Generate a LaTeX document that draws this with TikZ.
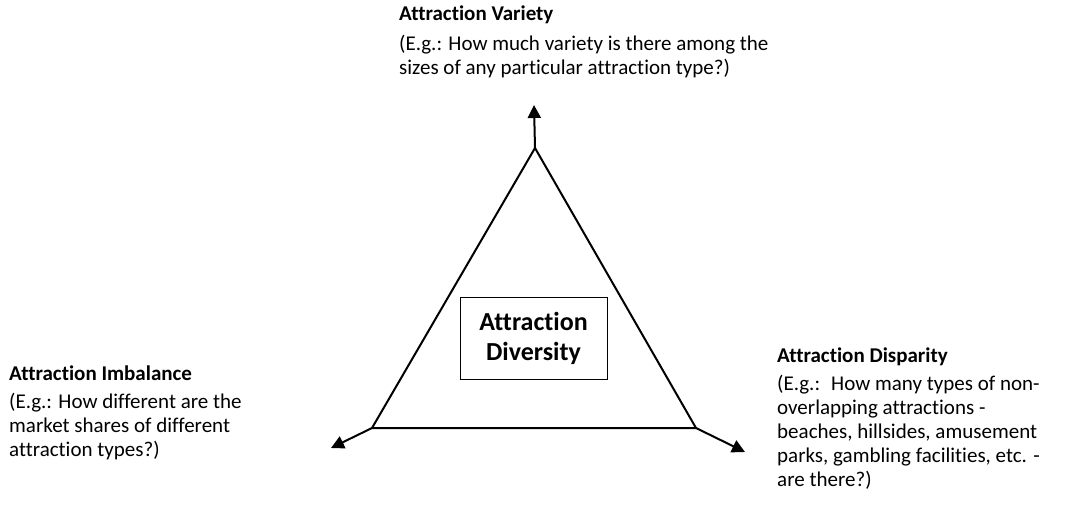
\documentclass[tikz,border=0pt]{standalone}
\usepackage{fontspec}
\setmainfont{Carlito}[Ligatures=NoCommon]
\usepackage{tikz}
\usetikzlibrary{arrows.meta,positioning}
\tikzset{
  dimlabel/.style={anchor=north west, align=left, inner sep=0pt, font=\fontsize{21}{24}\selectfont},
  centrebox/.style={draw, line width=1pt, minimum width=147pt, minimum height=82pt, align=center, font=\fontsize{26}{30}\selectfont\bfseries},
  sideline/.style={line width=2pt},
  axisarrow/.style={-{Triangle[length=13pt,width=13pt]}, line width=2pt},
}

\begin{document}
\begin{tikzpicture}[x=1pt, y=-1pt]
  \useasboundingbox (0,0) rectangle (1067,519);
  % triangle corners
  \coordinate (apex) at (535,148);
  \coordinate (leftc) at (372,428);
  \coordinate (rightc) at (696,428);
  \coordinate (uptip) at (534,105);
  \coordinate (lefttip) at (331,448);
  \coordinate (righttip) at (745,452);

  \draw[sideline, line join=miter] (apex) -- (leftc) -- (rightc) -- cycle;
  \draw[axisarrow] (apex) -- (uptip);
  \draw[axisarrow] (leftc) -- (lefttip);
  \draw[axisarrow] (rightc) -- (righttip);

  \node[centrebox, text depth=4pt] (diversity) at (533.5,338) {Attraction\\Diversity};

  \node[dimlabel] (variety) at (399,6) {\textbf{Attraction Variety}\\[6pt]
    (E.g.: How much variety is there among the\\
    sizes of any particular attraction type?)};
  \node[dimlabel] (imbalance) at (9,366) {\textbf{Attraction Imbalance}\\[4pt]
    (E.g.: How different are the\\
    market shares of different\\
    attraction types?)};
  \node[dimlabel] (disparity) at (777,348) {\textbf{Attraction Disparity}\\[4pt]
    (E.g.:~ How many types of non-\\
    overlapping attractions -\\
    beaches, hillsides, amusement\\
    parks, gambling facilities, etc. -\\
    are there?)};
\end{tikzpicture}
\end{document}
